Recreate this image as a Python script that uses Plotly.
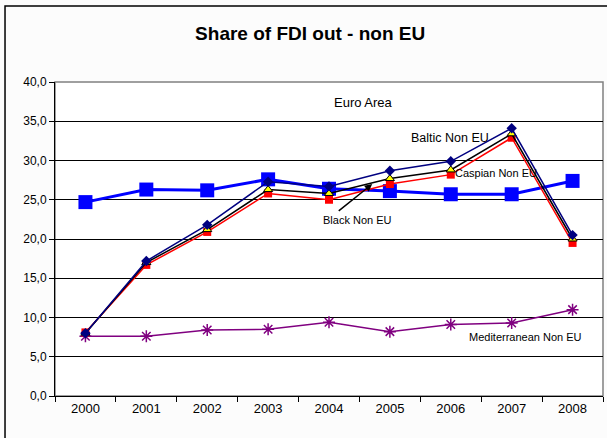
import plotly.graph_objects as go

years = ["2000", "2001", "2002", "2003", "2004", "2005", "2006", "2007", "2008"]
euro_area = [24.7, 26.3, 26.2, 27.6, 26.4, 26.1, 25.7, 25.7, 27.4]
baltic = [8.0, 17.2, 21.8, 27.3, 26.7, 28.7, 29.9, 34.1, 20.5]
caspian = [8.0, 17.0, 21.2, 26.3, 25.8, 27.7, 28.8, 33.4, 20.0]
black = [8.1, 16.7, 20.9, 25.8, 25.0, 27.0, 28.2, 32.9, 19.5]
mediterranean = [7.6, 7.6, 8.4, 8.5, 9.4, 8.2, 9.1, 9.3, 11.0]
y_ticks = [0, 5, 10, 15, 20, 25, 30, 35, 40]

fig = go.Figure()
fig.add_trace(go.Scatter(x=years, y=euro_area, name="Euro Area", mode="lines+markers",
                         line=dict(color="#0000FF", width=3),
                         marker=dict(symbol="square", size=14, color="#0000FF")))
fig.add_trace(go.Scatter(x=years, y=mediterranean, name="Mediterranean Non EU", mode="lines+markers",
                         line=dict(color="#800080", width=1.5),
                         marker=dict(symbol="asterisk-open", size=10, color="#800080",
                                     line=dict(color="#800080", width=1.5))))
fig.add_trace(go.Scatter(x=years, y=black, name="Black Non EU", mode="lines+markers",
                         line=dict(color="#FF0000", width=1.5),
                         marker=dict(symbol="square", size=8, color="#FF0000")))
fig.add_trace(go.Scatter(x=years, y=caspian, name="Caspian Non EU", mode="lines+markers",
                         line=dict(color="#000000", width=1.5),
                         marker=dict(symbol="triangle-up", size=8, color="#FFFF00",
                                     line=dict(color="#000000", width=1))))
fig.add_trace(go.Scatter(x=years, y=baltic, name="Baltic Non EU", mode="lines+markers",
                         line=dict(color="#000080", width=1.5),
                         marker=dict(symbol="diamond", size=8, color="#000080")))

font = "Liberation Sans, Arial, sans-serif"
big_font = dict(family=font, size=13, color="#000000")
ann_font = dict(family=font, size=12.5, color="#000000")
small_font = dict(family=font, size=11, color="#000000")
annotations = [
    dict(x=4.57, y=37.4, text="Euro Area", showarrow=False, font=big_font),
    dict(x=5.99, y=32.9, text="Baltic Non EU", showarrow=False, font=ann_font),
    dict(x=6.74, y=28.4, text="Caspian Non EU", showarrow=False, font=small_font),
    dict(x=4.47, y=22.4, text="Black Non EU", showarrow=False, font=small_font),
    dict(x=7.22, y=7.5, text="Mediterranean Non EU", showarrow=False, font=small_font),
    dict(x=4.71, y=27.0, text="", showarrow=True, ax=-35, ay=28,
         arrowhead=2, arrowsize=1, arrowwidth=1.5, arrowcolor="#000000"),
]

fig.update_layout(
    width=607, height=438, autosize=False,
    margin=dict(l=55, r=4, t=82, b=42, autoexpand=False),
    paper_bgcolor="#FCFCFC", plot_bgcolor="#FFFFFF",
    showlegend=False,
    separators=",.",
    font=dict(family=font, size=13, color="#000000"),
    title=dict(text="<b>Share of FDI out - non EU</b>", x=0.511, xref="container",
               y=0.925, yref="container", xanchor="center", yanchor="middle",
               font=dict(family=font, size=19, color="#000000")),
    xaxis=dict(type="category", range=[-0.5, 8.5], showgrid=False, showline=True,
               linecolor="#000000", linewidth=1,
               ticks="outside", ticklen=5, tickcolor="#000000", tickson="boundaries",
               mirror=False, zeroline=False, tickfont=dict(size=13), automargin=False),
    yaxis=dict(range=[0, 40], tickvals=y_ticks, tickformat=".1f", showgrid=True,
               gridcolor="#000000", gridwidth=1, showline=True, linecolor="#000000", linewidth=1,
               ticks="outside", ticklen=5, tickcolor="#000000", zeroline=False,
               tickfont=dict(size=12), automargin=False),
    annotations=annotations,
    shapes=[
        dict(type="rect", xref="paper", yref="paper", x0=0, x1=1, y0=0, y1=1,
             line=dict(color="#808080", width=1.5), layer="below"),
        dict(type="rect", xref="paper", yref="paper", x0=-0.0912, x1=1.02, y0=-0.16, y1=1.242,
             line=dict(color="#000000", width=1.5)),
    ],
)
fig.write_html("out.html", config={"displayModeBar": False},
               post_script="document.body.style.margin='0px';")
